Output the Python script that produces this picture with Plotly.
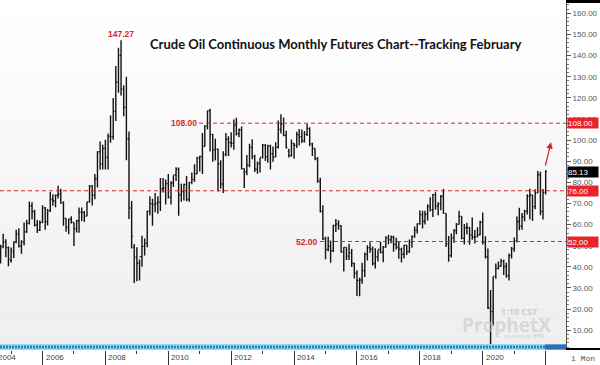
import plotly.graph_objects as go
import pandas as pd

# ---------------- data (monthly OHLC, continuous crude oil futures) ----------------
start_month = "2004-04-01"
opens = [
    35.8, 37.4, 39.9, 37.0, 43.9, 42.1, 49.6, 51.8, 49.1,
    43.0, 47.2, 51.8, 55.6, 49.9, 51.7, 56.7, 60.6, 68.9, 66.2, 59.8, 57.3,
    61.0, 67.9, 61.4, 66.6, 71.9, 71.3, 73.9, 74.4, 70.3, 62.9, 58.7, 62.5,
    61.0, 58.1, 61.8, 65.9, 65.7, 64.0, 70.7, 78.2, 74.0, 81.7, 94.5, 88.7,
    96.0, 91.8, 101.8, 101.6, 113.5, 127.4, 140.0, 124.1, 115.5, 100.6, 67.8, 49.3,
    44.6, 41.7, 44.8, 49.7, 51.1, 66.3, 69.9, 69.5, 70.0, 70.6, 77.0, 77.3,
    79.4, 72.9, 79.7, 83.5, 86.2, 74.0, 75.6, 79.0, 71.9, 80.0, 81.4, 84.1,
    91.4, 92.2, 97.0, 106.7, 113.9, 102.7, 95.4, 95.7, 88.8, 79.2, 93.2, 100.4,
    98.8, 98.5, 107.1, 103.0, 104.9, 86.5, 85.0, 88.1, 96.5, 92.2, 86.2, 88.9,
    91.8, 97.5, 92.1, 97.2, 93.5, 92.0, 96.6, 105.0, 107.7, 102.3, 94.6, 92.7,
    98.4, 97.5, 102.6, 101.6, 99.7, 102.7, 105.4, 98.2, 96.0, 91.2, 80.5, 66.2,
    53.3, 48.2, 49.8, 47.6, 59.6, 60.3, 59.5, 47.1, 49.2, 45.1, 46.6, 41.7,
    37.0, 33.6, 33.8, 38.3, 45.9, 49.1, 48.3, 41.6, 44.7, 48.2, 46.9, 49.4,
    53.7, 52.8, 54.0, 50.6, 49.3, 48.3, 46.0, 50.2, 47.2, 51.7, 54.4, 57.4,
    60.4, 64.7, 61.6, 64.9, 68.6, 67.0, 74.2, 68.8, 69.8, 73.3, 65.3, 50.9,
    45.4, 53.8, 57.2, 60.1, 63.9, 53.5, 58.5, 58.6, 55.1, 54.1, 54.2, 55.2,
    61.1, 51.6, 44.8, 20.5, 18.8, 35.5, 39.3, 40.3, 42.6, 40.2, 35.8, 45.3,
    48.5, 52.2, 61.5, 59.2, 63.6, 66.3, 73.5, 74.0, 68.5, 75.0, 83.6, 66.2,
    75.2,
]
highs = [
    38.4, 42.3, 40.0, 44.4, 49.4, 50.5, 55.7, 53.1, 49.6,
    49.2, 52.0, 57.6, 58.3, 52.6, 61.0, 62.3, 70.9, 70.6, 67.0, 62.2, 61.9,
    69.2, 68.3, 67.4, 75.4, 74.4, 74.2, 78.4, 77.0, 71.0, 62.9, 62.9, 64.0,
    61.0, 62.3, 68.1, 68.1, 66.4, 70.7, 78.8, 78.8, 83.9, 94.7, 99.3, 97.8,
    100.1, 103.1, 111.8, 119.9, 135.1, 143.7, 147.27, 126.0, 130.0, 104.1, 71.2, 50.8,
    49.3, 43.5, 54.7, 53.4, 66.5, 73.4, 72.2, 75.0, 73.4, 82.0, 82.0, 81.4,
    84.0, 80.5, 83.2, 87.2, 87.0, 79.3, 79.3, 83.0, 80.2, 84.6, 88.6, 92.1,
    92.6, 103.4, 107.0, 113.9, 114.8, 102.9, 100.6, 95.9, 90.5, 94.7, 103.4, 101.8,
    103.7, 109.8, 110.6, 105.5, 106.4, 86.6, 92.9, 98.3, 100.4, 93.0, 89.9, 91.5,
    98.2, 98.2, 97.8, 97.8, 97.0, 99.0, 109.3, 112.2, 110.7, 104.4, 95.9, 100.3,
    98.5, 103.9, 105.2, 105.0, 104.3, 107.7, 106.1, 98.7, 96.0, 92.0, 82.2, 69.1,
    54.2, 54.2, 52.5, 59.9, 62.6, 62.0, 59.7, 49.3, 49.3, 50.9, 48.4, 42.0,
    38.4, 34.8, 41.9, 46.8, 50.2, 51.7, 49.6, 48.8, 48.0, 51.9, 49.9, 54.5,
    55.2, 54.9, 54.7, 53.8, 52.0, 49.0, 50.4, 50.4, 52.9, 54.9, 59.1, 60.5,
    66.7, 66.6, 66.6, 69.6, 72.9, 74.5, 75.3, 70.6, 74.0, 76.9, 65.3, 54.6,
    55.8, 57.8, 60.7, 66.6, 63.9, 60.3, 60.9, 58.8, 63.4, 57.5, 58.8, 61.8,
    65.7, 54.5, 48.7, 29.1, 35.3, 41.6, 42.5, 43.8, 43.4, 41.9, 46.3, 49.4,
    53.9, 63.8, 68.0, 65.5, 67.0, 74.4, 77.0, 74.0, 76.7, 85.4, 85.0, 76.9,
    85.7,
]
lows = [
    33.9, 37.3, 35.4, 36.9, 42.1, 41.6, 48.8, 44.6, 40.3,
    42.1, 44.2, 51.2, 49.2, 46.2, 50.1, 56.0, 60.0, 62.4, 59.1, 56.0, 57.0,
    60.7, 57.6, 59.6, 66.0, 68.9, 68.2, 72.4, 69.9, 59.5, 56.6, 55.4, 60.5,
    49.9, 56.3, 56.2, 61.7, 61.2, 63.9, 70.5, 69.0, 72.0, 77.5, 86.0, 86.1,
    86.1, 86.1, 98.7, 100.1, 109.0, 122.4, 121.1, 111.3, 90.5, 62.7, 48.7, 32.4,
    33.2, 33.6, 40.1, 45.4, 49.3, 64.3, 59.5, 65.8, 65.1, 66.4, 75.2, 69.5,
    72.4, 69.5, 77.8, 80.6, 64.2, 70.8, 71.4, 71.0, 70.8, 79.1, 80.2, 84.0,
    85.1, 84.0, 97.0, 105.0, 94.6, 89.7, 90.3, 75.7, 77.1, 75.0, 92.4, 92.5,
    96.5, 95.4, 102.2, 101.3, 86.1, 77.3, 83.4, 87.1, 90.9, 84.9, 84.1, 84.6,
    91.3, 90.1, 89.3, 86.1, 89.8, 92.0, 96.0, 103.1, 101.8, 96.0, 91.8, 92.1,
    91.2, 96.2, 97.4, 98.6, 98.9, 101.9, 97.1, 92.5, 90.4, 79.8, 65.7, 52.7,
    43.6, 47.4, 42.0, 47.0, 56.5, 57.6, 46.7, 37.8, 43.2, 43.2, 39.9, 34.5,
    26.2, 26.1, 32.0, 35.2, 43.0, 46.7, 40.6, 39.2, 42.5, 46.3, 42.2, 49.0,
    50.7, 51.2, 47.1, 48.2, 43.8, 42.1, 43.9, 45.6, 46.5, 49.1, 53.8, 55.8,
    59.9, 58.1, 60.0, 61.9, 66.2, 63.6, 67.0, 64.4, 66.8, 65.3, 49.4, 42.4,
    44.4, 51.4, 55.4, 60.0, 53.1, 50.6, 55.3, 50.5, 52.8, 51.0, 54.0, 55.0,
    50.6, 44.0, 20.1, -40.3, 12.3, 34.4, 38.7, 40.2, 36.1, 34.9, 33.6, 44.0,
    47.2, 51.5, 57.3, 57.6, 61.6, 64.8, 62.4, 61.7, 67.3, 74.9, 64.4, 62.4,
    74.3,
]
closes = [
    37.4, 39.9, 37.1, 43.8, 42.1, 49.6, 51.8, 49.1, 43.5,
    48.2, 51.8, 55.4, 49.7, 52.0, 56.5, 60.6, 68.9, 66.2, 59.8, 57.3, 61.0,
    67.9, 61.4, 66.6, 71.9, 71.3, 73.9, 74.4, 70.3, 62.9, 58.7, 62.5, 61.1,
    58.1, 61.8, 65.9, 65.7, 64.0, 70.7, 78.2, 74.0, 81.7, 94.5, 88.7, 96.0,
    91.8, 101.8, 101.6, 113.5, 127.4, 140.0, 124.1, 115.5, 100.6, 67.8, 54.4, 44.6,
    41.7, 44.8, 49.7, 51.1, 66.3, 69.9, 69.5, 70.0, 70.6, 77.0, 77.3, 79.4,
    72.9, 79.7, 83.5, 86.2, 74.0, 75.6, 79.0, 71.9, 80.0, 81.4, 84.1, 91.4,
    92.2, 97.0, 106.7, 113.9, 102.7, 95.4, 95.7, 88.8, 79.2, 93.2, 100.4, 98.8,
    98.5, 107.1, 103.0, 104.9, 86.5, 85.0, 88.1, 96.5, 92.2, 86.2, 88.9, 91.8,
    97.5, 92.1, 97.2, 93.5, 92.0, 96.6, 105.0, 107.7, 102.3, 96.4, 92.7, 98.4,
    97.5, 102.6, 101.6, 99.7, 102.7, 105.4, 98.2, 96.0, 91.2, 80.5, 66.2, 53.3,
    48.2, 49.8, 47.6, 59.6, 60.3, 59.5, 47.1, 49.2, 45.1, 46.6, 41.7, 37.0,
    33.6, 33.8, 38.3, 45.9, 49.1, 48.3, 41.6, 44.7, 48.2, 46.9, 49.4, 53.7,
    52.8, 54.0, 50.6, 49.3, 48.3, 46.0, 50.2, 47.2, 51.7, 54.4, 57.4, 60.4,
    64.7, 61.6, 64.9, 68.6, 67.0, 74.2, 68.8, 69.8, 73.3, 65.3, 50.9, 45.4,
    53.8, 57.2, 60.1, 63.9, 53.5, 58.5, 58.6, 55.1, 54.1, 54.2, 55.2, 61.1,
    51.6, 44.8, 20.5, 18.8, 35.5, 39.3, 40.3, 42.6, 40.2, 35.8, 45.3, 48.5,
    52.2, 61.5, 59.2, 63.6, 66.3, 73.5, 74.0, 68.5, 75.0, 83.6, 66.2, 75.2,
    85.13,
]

year_labels = ["2006", "2008", "2010", "2012", "2014", "2016", "2018", "2020"]
level_lines = [108.0, 76.0, 52.0]
level_texts = ["108.00", "76.00", "52.00"]
last_price = 85.13
peak_value = 147.27
title_text = "Crude Oil Continuous Monthly Futures Chart--Tracking February"

# ---------------- figure ----------------
months = pd.date_range(start_month, periods=len(opens), freq="MS")

W, H = 600, 365
ML, MR, MT, MB = 0, 34, 0, 15
PW, PH = W - ML - MR, H - MT - MB  # 566 x 350

RED = "#d8262c"
fig = go.Figure()

shapes = []
# background gradient in plot area
nb = 24
for i in range(nb):
    t = i / (nb - 1)
    g = int(round(255 - t * 17))
    shapes.append(dict(type="rect", xref="paper", yref="paper",
                       x0=0, x1=1, y0=1 - (i + 1) / nb, y1=1 - i / nb,
                       fillcolor=f"rgb({g},{g},{g})", line=dict(width=0), layer="below"))

annotations = []
# watermark
annotations.append(dict(text="<b>1:10 CST</b>", xref="paper", yref="paper",
                        x=519 / PW, y=1 - 311 / PH, xanchor="center", yanchor="middle",
                        showarrow=False,
                        font=dict(family="Open Sans", size=9, color="rgba(190,190,190,0.7)")))
annotations.append(dict(text="<b>ProphetX</b>", xref="paper", yref="paper",
                        x=506 / PW, y=1 - 325 / PH, xanchor="center", yanchor="middle",
                        showarrow=False,
                        font=dict(family="Open Sans", size=19, color="rgba(200,200,200,0.6)")))
annotations.append(dict(text="powered by <b>DTN</b>", xref="paper", yref="paper",
                        x=524 / PW, y=1 - 336 / PH, xanchor="center", yanchor="middle",
                        showarrow=False,
                        font=dict(family="Open Sans", size=5, color="rgba(190,190,190,0.7)")))

fig.add_trace(go.Ohlc(
    x=months, open=opens, high=highs, low=lows, close=closes,
    increasing=dict(line=dict(color="#111111", width=1.4)),
    decreasing=dict(line=dict(color="#111111", width=1.4)),
    tickwidth=0.45, showlegend=False, hoverinfo="skip",
))

# dashed level lines
x_start = {108.0: 199 / PW, 76.0: 0.0, 52.0: 320 / PW}
for lv in level_lines:
    shapes.append(dict(type="line", xref="paper", yref="y", x0=x_start[lv], x1=1,
                       y0=lv, y1=lv, line=dict(color=RED, width=1, dash="4px,3px")))

# bottom blue strip (scroll bar)
px_y = 1 / PH
shapes.append(dict(type="rect", xref="paper", yref="paper", x0=0, x1=1,
                   y0=0, y1=6 * px_y, fillcolor="#9fd8ee", line=dict(width=0)))
shapes.append(dict(type="line", xref="paper", yref="paper", x0=0, x1=1,
                   y0=3 * px_y, y1=3 * px_y,
                   line=dict(color="#1d86c6", width=3, dash="2px,1px")))
shapes.append(dict(type="rect", xref="paper", yref="paper", x0=545 / PW, x1=1,
                   y0=0.5 * px_y, y1=5.5 * px_y, fillcolor="#2c6fb3", line=dict(width=0)))
# right-side black bars
shapes.append(dict(type="rect", xref="paper", yref="paper", x0=1, x1=W / PW,
                   y0=1 - 3 * px_y, y1=1, fillcolor="#000000", line=dict(width=0)))
shapes.append(dict(type="rect", xref="paper", yref="paper", x0=1, x1=W / PW,
                   y0=0, y1=2 * px_y, fillcolor="#000000", line=dict(width=0)))

# title
annotations.append(dict(text=f"<b>{title_text}</b>", xref="paper", yref="paper",
                        x=336 / PW, y=1 - 44 / PH, xanchor="center", yanchor="middle",
                        showarrow=False, font=dict(family="Lato", size=13, color="#111111")))
# peak label
annotations.append(dict(text=f"<b>{peak_value:.2f}</b>", x=months[highs.index(peak_value)],
                        y=peak_value, yanchor="bottom", yshift=-1, showarrow=False,
                        font=dict(family="Liberation Sans", size=8.5, color=RED)))
# level labels on chart
annotations.append(dict(text="<b>108.00</b>", xref="paper", x=184 / PW, y=108.0,
                        xanchor="center", yanchor="middle", showarrow=False,
                        font=dict(family="Liberation Sans", size=8.5, color=RED)))
annotations.append(dict(text="<b>52.00</b>", xref="paper", x=307 / PW, y=52.0,
                        xanchor="center", yanchor="middle", showarrow=False,
                        font=dict(family="Liberation Sans", size=8.5, color=RED)))
# axis boxes
for lv, txt in zip(level_lines, level_texts):
    annotations.append(dict(text=txt, xref="paper", x=1, xshift=1, y=lv, xanchor="left",
                            yanchor="middle", showarrow=False, bgcolor="#e8232b",
                            width=30, height=10, align="left", borderpad=0,
                            font=dict(family="Liberation Sans", size=8, color="#ffffff")))
annotations.append(dict(text=f"{last_price:.2f}", xref="paper", x=1, xshift=1, y=last_price,
                        xanchor="left", yanchor="middle", showarrow=False, bgcolor="#000000",
                        width=30, height=10, align="left", borderpad=0,
                        font=dict(family="Liberation Sans", size=8, color="#ffffff")))
# year labels
for yl in year_labels:
    annotations.append(dict(text=yl, x=pd.Timestamp(f"{yl}-01-01"), xanchor="left", xshift=1,
                            yref="paper", y=0, yanchor="top", yshift=-1, showarrow=False,
                            font=dict(family="Liberation Sans", size=8, color="#444444")))
annotations.append(dict(text="2004", xref="paper", x=-4 / PW, xanchor="left",
                        yref="paper", y=0, yanchor="top", yshift=-1, showarrow=False,
                        font=dict(family="Liberation Sans", size=8, color="#444444")))
annotations.append(dict(text="1 Mon", xref="paper", x=(PW + 17) / PW, xanchor="center",
                        yref="paper", y=-8 / PH, yanchor="middle", showarrow=False,
                        font=dict(family="Liberation Mono", size=8, color="#555555")))
# arrow
annotations.append(dict(x=pd.Timestamp("2022-03-04"), y=99.0, ax=-6, ay=25,
                        showarrow=True, arrowhead=2, arrowsize=1, arrowwidth=1.3,
                        arrowcolor=RED, text=""))

even_years = [pd.Timestamp(f"{y}-01-01") for y in range(2004, 2024, 2)]
odd_years = [pd.Timestamp(f"{y}-01-01") for y in range(2005, 2024, 2)]

fig.update_layout(
    width=W, height=H,
    margin=dict(l=ML, r=MR, t=MT, b=MB, pad=0),
    paper_bgcolor="#ffffff", plot_bgcolor="#ffffff",
    shapes=shapes, annotations=annotations,
    showlegend=False,
    xaxis=dict(type="date", range=["2004-08-25", "2022-08-25"],
               showgrid=False, zeroline=False, showline=False,
               rangeslider=dict(visible=False),
               tickmode="array", tickvals=even_years, showticklabels=False,
               ticks="outside", ticklen=14, tickcolor="#333333", tickwidth=1,
               minor=dict(tickmode="array", tickvals=odd_years, ticks="outside",
                          ticklen=3, tickcolor="#333333")),
    yaxis=dict(side="right", range=[0.65, 166.3], showgrid=False, zeroline=False,
               showline=True, linecolor="#555555", linewidth=1,
               tickmode="linear", tick0=0, dtick=10, tickformat=".2f",
               ticks="outside", ticklen=4, tickcolor="#555555",
               tickfont=dict(family="Liberation Sans", size=8, color="#555555"),
               minor=dict(dtick=2, ticks="outside", ticklen=2, tickcolor="#777777")),
)

fig.write_html("out.html", config={"displayModeBar": False},
               post_script="document.body.style.margin='0';document.body.style.padding='0';"
                           "document.body.style.overflow='hidden';")
